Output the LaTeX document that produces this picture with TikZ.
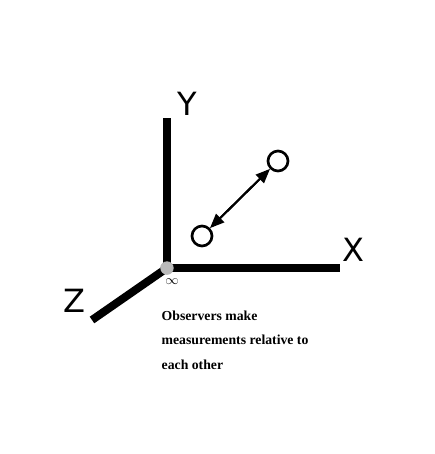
\documentclass[tikz,border=0pt]{standalone}
\usepackage{fontspec}
\setmainfont{Liberation Serif}
\newfontfamily\handfont{DejaVu Sans}
\usetikzlibrary{positioning}
\usetikzlibrary{arrows}
\begin{document}
\begin{tikzpicture}[x=0.75pt,y=-0.75pt]
	\tikzstyle{axis} = [line width=6pt]
	\tikzstyle{observer} = [draw,circle,line width=2pt,minimum size=15pt,inner sep=0pt]
	\tikzstyle{axislabel} = [font=\handfont\fontsize{24}{24}\selectfont]
	\tikzstyle{dot} = [circle,fill=gray!55,minimum size=10pt,inner sep=0pt]

	\useasboundingbox (0,0) rectangle (435,454);

	\node[dot] at (167,268) (origin) {};
	\coordinate (xend) at (340,268);
	\coordinate (yend) at (167,118);
	\coordinate (zend) at (92,320);

	\begin{scope}[axis]
		\draw (origin.center) -- (xend);
		\draw (origin.center) -- (yend);
		\draw (origin.center) -- (zend);
	\end{scope}
	\node[dot] at (origin) {};

	\node[axislabel] at (187,104) (ylabel) {Y};
	\node[axislabel] at (353,250) (xlabel) {X};
	\node[axislabel] at (74,301) (zlabel) {Z};
	\node[font=\normalsize] at (172,282) (inf) {$\infty$};

	\node[observer] at (202,236) (o1) {};
	\node[observer] at (278,161) (o2) {};
	\draw[-triangle 45,line width=1.5pt,shorten <=3pt] (o1) -- (o2);
	\draw[-triangle 45,line width=1.5pt,shorten <=3pt] (o2) -- (o1);

	\node[font=\fontsize{10.3}{18.5}\selectfont\bfseries,align=left,anchor=north west] at (157,306) (note)
		{Observers make\\measurements relative to\\each other};
\end{tikzpicture}
\end{document}
